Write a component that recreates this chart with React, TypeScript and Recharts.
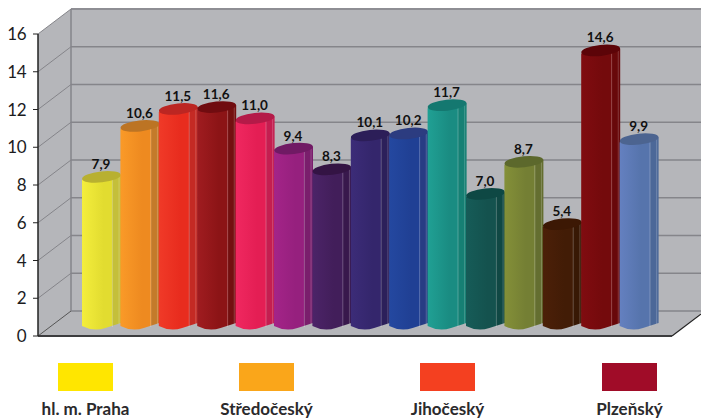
import { BarChart, Bar, XAxis, YAxis, LabelList, Customized } from 'recharts';

const categories = [
  'hl. m. Praha', 'Středočeský', 'Jihočeský', 'Plzeňský', 'Karlovarský',
  'Ústecký', 'Liberecký', 'Královéhradecký', 'Pardubický', 'Vysočina',
  'Jihomoravský', 'Olomoucký', 'Zlínský', 'Moravskoslezský', 'ČR',
];
const values = [7.9, 10.6, 11.5, 11.6, 11.0, 9.4, 8.3, 10.1, 10.2, 11.7, 7.0, 8.7, 5.4, 14.6, 9.9];
const yTicks = [0, 2, 4, 6, 8, 10, 12, 14, 16];
const legendNames = ['hl. m. Praha', 'Středočeský', 'Jihočeský', 'Plzeňský'];
const legendColors = ['#ffe600', '#faa61a', '#f44020', '#a00c28'];
// [light left, mid, right facet, cap]
const barColors = [
  ['#f4ee3c', '#e2dc30', '#c4bf3a', '#b8b030'],
  ['#fa9a28', '#ee8a20', '#c47a2a', '#bc7424'],
  ['#f03a28', '#e82c1e', '#c42a24', '#bc2622'],
  ['#a01c20', '#8c1416', '#741010', '#700c10'],
  ['#f02860', '#e41e54', '#c41e50', '#b41a48'],
  ['#a42488', '#96207e', '#7a1e6c', '#701a64'],
  ['#4c2468', '#421e5a', '#38184c', '#341444'],
  ['#3c2c78', '#34266c', '#2c205a', '#2c1e58'],
  ['#2448a0', '#204094', '#283c84', '#2c3c80'],
  ['#20a094', '#1a8c82', '#168074', '#147870'],
  ['#165c58', '#14524e', '#104844', '#0e4844'],
  ['#849038', '#747f34', '#646e30', '#5c682c'],
  ['#4c2008', '#421c06', '#381804', '#3c1804'],
  ['#800c10', '#740a0c', '#68080a', '#5c0408'],
  ['#6480c0', '#5674ac', '#4c6898', '#4c6490'],
];

const data = categories.map((name, i) => ({ name, value: values[i] }));

const LEFT = 38;
const RIGHT = 672;
const TOP = 34;
const BOTTOM = 336;
const DX = 33;
const DY = -25;
const BAR_LIFT = 7;
const FONT = 'Lato, sans-serif';

const yOf = (v: number) => BOTTOM - (v / 16) * (BOTTOM - TOP);

// back wall, side wall and floor
function Walls() {
  return (
    <g>
      <polygon
        points={`${LEFT},${BOTTOM} ${LEFT},${TOP} ${LEFT + DX},${TOP + DY} 701,${TOP + DY} 701,${BOTTOM + DY + 2} ${RIGHT},${BOTTOM}`}
        fill="#b5b6ba"
      />
      {yTicks.map((t) => (
        <g key={t}>
          <line x1={LEFT + DX} x2={701} y1={yOf(t) + DY} y2={yOf(t) + DY} stroke={t === 16 ? '#8e8e94' : '#85858a'} strokeWidth={t === 16 ? 2 : 1.3} />
          <line x1={LEFT} x2={LEFT + DX} y1={yOf(t)} y2={yOf(t) + DY} stroke={t === 0 ? '#555' : '#85858a'} strokeWidth={1} />
        </g>
      ))}
      <line x1={LEFT + DX} x2={LEFT + DX} y1={TOP + DY} y2={BOTTOM + DY} stroke="#85858a" strokeWidth={1.5} />
      <line x1={RIGHT} x2={701} y1={BOTTOM} y2={BOTTOM + DY + 3} stroke="#222" strokeWidth={1.2} />
    </g>
  );
}

function Cylinder(props: any) {
  const { x, y, width, height, index } = props;
  const c = barColors[index];
  const w = width + 1;
  const top = y - BAR_LIFT;
  const base = y + height - BAR_LIFT;
  const rise = 5;
  const id = `cyl-${index}`;
  const body = `M${x},${top} L${x},${base - 3} Q${x + w * 0.3},${base + 3} ${x + w * 0.6},${base - 1} L${x + w},${base - 6} L${x + w},${top - rise} Z`;
  return (
    <g>
      <defs>
        <linearGradient id={id} x1="0" x2="1" y1="0" y2="0">
          <stop offset="0" stopColor={c[0]} />
          <stop offset="0.55" stopColor={c[1]} />
          <stop offset="0.78" stopColor={c[1]} />
          <stop offset="0.78" stopColor={c[2]} />
          <stop offset="1" stopColor={c[2]} />
        </linearGradient>
      </defs>
      <path d={body} fill={`url(#${id})`} />
      <line x1={x + w * 0.78} x2={x + w * 0.78} y1={top} y2={base - 2} stroke="#fff" strokeOpacity={0.25} />
      <line x1={x + w * 0.95} x2={x + w * 0.95} y1={top - 4} y2={base - 5} stroke="#fff" strokeOpacity={0.2} />
      <ellipse cx={x + w / 2} cy={top - 3} rx={w / 2} ry={5.5} fill={c[3]} transform={`rotate(-6 ${x + w / 2} ${top - 3})`} />
    </g>
  );
}

function ValueLabel(props: any) {
  const { x, y, width, value } = props;
  return (
    <text x={x + width / 2} y={y - BAR_LIFT - 11} textAnchor="middle" fontFamily={FONT} fontWeight={700} fontSize={13.5} fill="#111">
      {value.toFixed(1).replace('.', ',')}
    </text>
  );
}

function LegendRow() {
  const lefts = [58, 239, 420, 602];
  return (
    <div style={{ position: 'absolute', left: 0, top: 363, width: 701, height: 55 }}>
      {legendNames.map((name, i) => (
        <div key={name}>
          <div style={{ position: 'absolute', left: lefts[i], top: 0, width: 55, height: 28, background: legendColors[i] }} />
          <div style={{ position: 'absolute', left: lefts[i] - 40, width: 135, top: 37, lineHeight: '17px', textAlign: 'center', fontFamily: FONT, fontWeight: 700, fontSize: 17, color: '#2b2a2c', whiteSpace: 'nowrap' }}>
            {name}
          </div>
        </div>
      ))}
    </div>
  );
}

export default function App() {
  return (
    <div style={{ position: 'fixed', left: 0, top: 0, width: 701, height: 418, overflow: 'hidden', background: '#fff' }}>
      <BarChart
        width={701}
        height={418}
        data={data}
        margin={{ top: TOP, right: 701 - RIGHT, bottom: 418 - BOTTOM - 1, left: LEFT - 1 }}
        barCategoryGap={0}
      >
        <Customized component={Walls} />
        <XAxis dataKey="name" tick={false} axisLine={{ stroke: '#3c3c3e', strokeWidth: 2 }} tickLine={false} padding={{ left: 44, right: 14 }} height={1} />
        <YAxis
          type="number"
          domain={[0, 16]}
          ticks={yTicks}
          width={1}
          interval={0}
          axisLine={{ stroke: '#222', strokeWidth: 1.5 }}
          tickLine={{ stroke: '#222' }}
          tickSize={5}
          tickMargin={7}
          tick={{ fontFamily: FONT, fontSize: 17, fill: '#1c1c1e', letterSpacing: -0.5 }}
        />
        <Bar dataKey="value" shape={<Cylinder />} isAnimationActive={false}>
          <LabelList dataKey="value" content={<ValueLabel />} />
        </Bar>
      </BarChart>
      <LegendRow />
    </div>
  );
}
